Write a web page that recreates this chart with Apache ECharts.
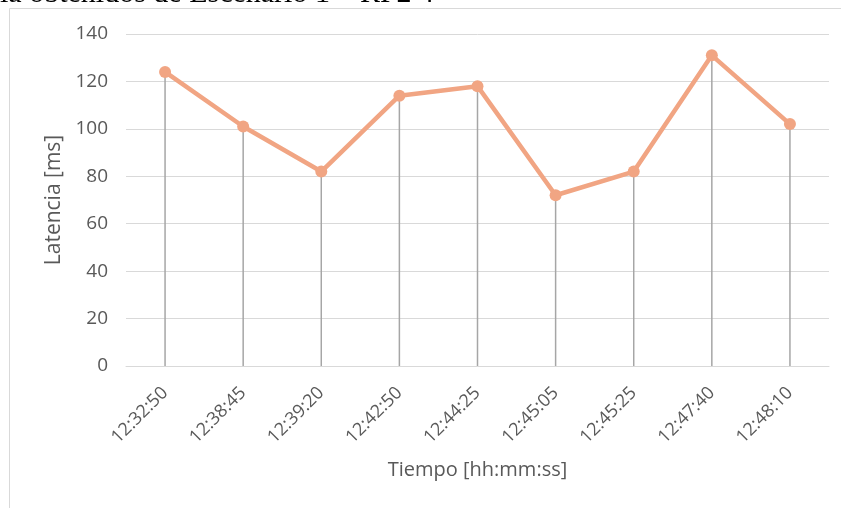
<!DOCTYPE html>
<html lang="es">
<head>
    <meta charset="utf-8">
    <script src="https://cdn.jsdelivr.net/npm/echarts@6.0.0/dist/echarts.min.js"></script>
    <style>
        html, body { margin: 0; padding: 0; background: #fff; }
        #main { width: 841px; height: 508px; }
    </style>
</head>
<body>
<div id="main"></div>
<script>
    // datos
    var tiempos = ['12:32:50', '12:38:45', '12:39:20', '12:42:50', '12:44:25', '12:45:05', '12:45:25', '12:47:40', '12:48:10'];
    var latencia = [124, 101, 82, 114, 118, 72, 82, 131, 102];
    var ejeY = { min: 0, max: 140, paso: 20 };

    var txt = '#595959';
    var fuente = '"Open Sans", sans-serif';

    var myChart = echarts.init(document.getElementById('main'));
    myChart.setOption({
        animation: false,
        grid: { left: 126, right: 12, top: 34, bottom: 142 },
        graphic: [
            {
                type: 'rect',
                shape: { x: 9.5, y: 8.5, width: 900, height: 600 },
                style: { fill: 'none', stroke: '#d9d9d9', lineWidth: 1 },
                silent: true
            },
            {
                type: 'text',
                x: 0, y: -6,
                style: {
                    text: 'ia obtenidos de Escenario 1 – RP2 4',
                    font: '30px "Liberation Serif", serif',
                    fill: '#000',
                    textVerticalAlign: 'middle'
                },
                silent: true
            }
        ],
        xAxis: {
            type: 'category',
            data: tiempos,
            name: 'Tiempo [hh:mm:ss]',
            nameLocation: 'middle',
            nameGap: 94,
            nameTextStyle: { color: txt, fontSize: 20, fontFamily: fuente },
            axisLine: { lineStyle: { color: '#d9d9d9', width: 1 } },
            axisTick: { show: false },
            axisLabel: { color: txt, fontSize: 18, fontFamily: fuente, rotate: 45, margin: 24, interval: 0 }
        },
        yAxis: {
            type: 'value',
            min: ejeY.min,
            max: ejeY.max,
            interval: ejeY.paso,
            name: 'Latencia [ms]',
            nameLocation: 'middle',
            nameGap: 59,
            nameTextStyle: { color: txt, fontSize: 21, fontFamily: fuente },
            axisLine: { show: false },
            axisTick: { show: false },
            axisLabel: { color: txt, fontSize: 19, fontFamily: fuente, margin: 18 },
            splitLine: { lineStyle: { color: '#d9d9d9', width: 1 } }
        },
        series: [
            {
                // lineas de caida hasta el eje
                type: 'bar',
                data: latencia,
                barWidth: 1.5,
                itemStyle: { color: '#a6a6a6' },
                silent: true,
                z: 1
            },
            {
                type: 'line',
                data: latencia,
                symbol: 'circle',
                symbolSize: 12,
                lineStyle: { color: '#f1a583', width: 4.5 },
                itemStyle: { color: '#f1a583' },
                z: 3
            }
        ]
    });
</script>
</body>
</html>
